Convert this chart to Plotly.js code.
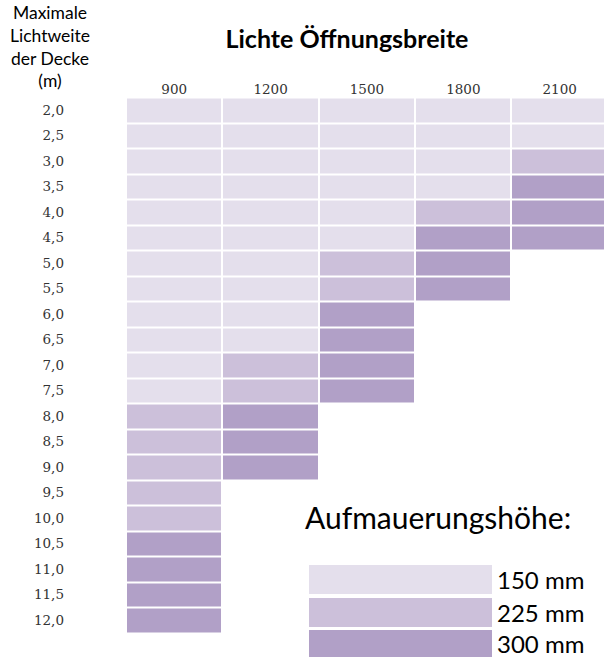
<!DOCTYPE html>
<html>
<head>
<meta charset="utf-8">
<script src="https://cdn.plot.ly/plotly-3.0.1.min.js"></script>
<style>html,body{margin:0;padding:0;background:#fff;}#chart{width:604px;height:657px;}</style>
</head>
<body>
<div id="chart"></div>
<script>
// Categories
const openings = ['900', '1200', '1500', '1800', '2100'];
const spans = ['2,0','2,5','3,0','3,5','4,0','4,5','5,0','5,5','6,0','6,5','7,0','7,5','8,0','8,5','9,0','9,5','10,0','10,5','11,0','11,5','12,0'];
// Aufmauerungshöhe (mm) per opening width, one value per span row
const h900  = [150,150,150,150,150,150,150,150,150,150,150,150,225,225,225,225,225,300,300,300,300];
const h1200 = [150,150,150,150,150,150,150,150,150,150,225,225,300,300,300,null,null,null,null,null,null];
const h1500 = [150,150,150,150,150,150,225,225,300,300,300,300,null,null,null,null,null,null,null,null,null];
const h1800 = [150,150,150,150,225,300,300,300,null,null,null,null,null,null,null,null,null,null,null,null,null];
const h2100 = [150,150,225,300,300,300,null,null,null,null,null,null,null,null,null,null,null,null,null,null,null];
const legendLabels = ['150 mm', '225 mm', '300 mm'];
const legendColors = ['#E4DFEC', '#CCC0DA', '#B1A0C7'];

const cols = [h900, h1200, h1500, h1800, h2100];
const z = spans.map((s, i) => cols.map(c => c[i]));

const W = 604, H = 657;
const px = v => v / W;
const py = v => 1 - v / H;

const trace = {
  type: 'heatmap',
  x: openings,
  y: spans,
  z: z,
  zmin: 150, zmax: 300,
  colorscale: [[0, legendColors[0]], [0.25, legendColors[0]], [0.25, legendColors[1]], [0.75, legendColors[1]], [0.75, legendColors[2]], [1, legendColors[2]]],
  showscale: false,
  xgap: 2, ygap: 2,
  hoverinfo: 'skip'
};

const tickFont = {family: 'DejaVu Serif', size: 13.5, color: '#333333'};
const txtFont = 'Lato, "Open Sans", sans-serif';

const shapes = [];
const annotations = [];
const sw = [[565, 594], [598, 627], [630, 657]];
legendLabels.forEach((lab, i) => {
  shapes.push({type: 'rect', xref: 'paper', yref: 'paper', x0: px(309), x1: px(492), y0: py(sw[i][1]), y1: py(sw[i][0]), fillcolor: legendColors[i], line: {width: 0}});
  annotations.push({xref: 'paper', yref: 'paper', x: px(495), y: py((sw[i][0] + sw[i][1]) / 2), xanchor: 'left', yanchor: 'middle', text: lab, showarrow: false, font: {family: txtFont, size: 24, color: '#000'}});
});
annotations.push({xref: 'paper', yref: 'paper', x: px(303), y: py(517), xanchor: 'left', yanchor: 'middle', text: 'Aufmauerungshöhe:', showarrow: false, font: {family: txtFont, size: 30, color: '#000'}});
annotations.push({xref: 'paper', yref: 'paper', x: px(50), y: py(47), xanchor: 'center', yanchor: 'middle', align: 'center', text: 'Maximale<br>Lichtweite<br>der Decke<br>(m)', showarrow: false, font: {family: txtFont, size: 17.5, color: '#000'}});

const layout = {
  width: W, height: H,
  margin: {l: 0, r: 0, t: 0, b: 0},
  paper_bgcolor: '#fff', plot_bgcolor: '#fff',
  title: {text: 'Lichte Öffnungsbreite', x: px(347), xanchor: 'center', y: py(39), yanchor: 'middle', font: {family: txtFont, size: 25, weight: 'bold', color: '#000'}},
  xaxis: {type: 'category', side: 'top', domain: [px(126), 1], range: [-0.5, 4.46], showgrid: false, zeroline: false, showline: false, ticks: '', tickfont: tickFont, fixedrange: true},
  yaxis: {type: 'category', domain: [py(633), py(97.5)], autorange: 'reversed', showgrid: false, zeroline: false, showline: false, ticks: '', tickfont: tickFont, ticklabelstandoff: 61, fixedrange: true},
  shapes: shapes,
  annotations: annotations,
  showlegend: false
};

Plotly.newPlot('chart', [trace], layout, {displayModeBar: false, staticPlot: true});
</script>
</body>
</html>
